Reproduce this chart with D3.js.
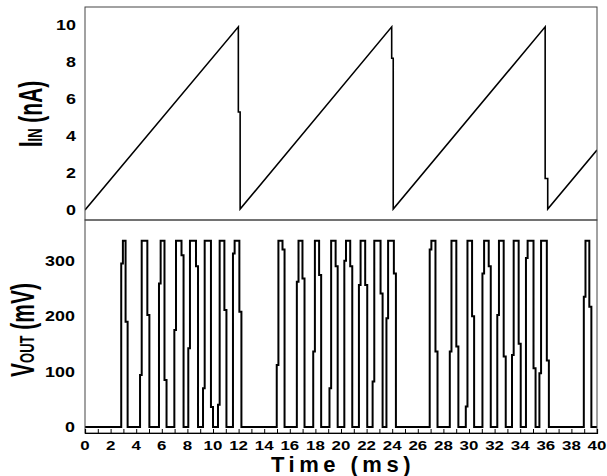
<!DOCTYPE html>
<html>
<head>
<meta charset="utf-8">
<script src="https://cdn.jsdelivr.net/npm/d3@7"></script>
<style>
  html, body { margin: 0; padding: 0; background: #fff; }
  svg { display: block; }
  text { font-family: "Liberation Sans", Arial, sans-serif; font-weight: bold; fill: #000; }
</style>
</head>
<body>
<div id="chart"></div>
<script>
// ---------- data ----------
// Top panel: input current ramp (time ms, current nA)
const rampTime    = [0, 11.98, 11.98, 12.12, 12.12, 23.96, 23.96, 24.08, 24.08, 35.95, 35.95, 36.15, 36.15, 40];
const rampCurrent = [0, 9.9,   5.3,   5.3,   0.05,  9.9,   8.2,   8.2,   0.05,  9.9,   1.7,   1.7,   0.05,  3.24];

// Bottom panel: output spikes (start / end time in ms, intermediate sample levels in mV)
const pulseStart = [2.83, 4.30, 5.78, 6.98, 8.07, 9.22, 10.39, 11.56,
                    14.98, 16.55, 17.83, 19.10, 20.26, 21.40, 22.47, 23.55,
                    26.93, 28.50, 29.75, 31.05, 32.21, 33.36, 34.45, 35.50,
                    38.97];
const pulseEnd   = [3.33, 5.03, 6.37, 7.70, 8.83, 10.00, 11.05, 12.22,
                    15.59, 17.15, 18.45, 19.74, 20.88, 22.05, 23.25, 24.29,
                    27.54, 29.17, 30.40, 31.70, 32.87, 34.04, 35.20, 36.24,
                    39.56];
const riseMid    = [295, 94, 259, 175, 142, 70, 40, 313,
                    112, 262, 136, 70, 300, 256, 82, 196,
                    320, 136, 37, 277, 202, 130, 305, 97,
                    235];
const fallMid    = [190, 202, 85, 310, 290, 36, 211, 208,
                    320, 268, 274, 290, 290, 256, 241, 277,
                    136, 145, 200, 290, 127, 150, 106, 120,
                    217];
const spikeTop = 336;   // mV
const riseJog = 0.13, fallJog = 0.16; // ms between samples on edges

const xTickLabels = d3.range(0, 41, 2);
const xMinorTicks = d3.range(0, 41, 1);
const yTopTicks = [0, 2, 4, 6, 8, 10];
const yBotTicks = [0, 100, 200, 300];

// ---------- layout ----------
const W = 607, H = 476;
const L = 85, R = 597, T = 7, MID = 220, B = 433;

const svg = d3.select("#chart").append("svg").attr("width", W).attr("height", H);

const x = d3.scaleLinear().domain([0, 40]).range([L, R]);
const yTop = d3.scaleLinear().domain([0, 10]).range([210, 25]);
const yBot = d3.scaleLinear().domain([0, 300]).range([427, 260.7]);

// clip paths
const defs = svg.append("defs");
defs.append("clipPath").attr("id", "clipTop").append("rect")
  .attr("x", L).attr("y", T).attr("width", R - L).attr("height", MID - T);
defs.append("clipPath").attr("id", "clipBot").append("rect")
  .attr("x", L).attr("y", MID).attr("width", R - L).attr("height", B - MID);

// ---------- top panel ----------
const rampData = rampTime.map((t, i) => [t, rampCurrent[i]]);
svg.append("path")
  .datum(rampData)
  .attr("clip-path", "url(#clipTop)")
  .attr("fill", "none").attr("stroke", "#000").attr("stroke-width", 1.6)
  .attr("stroke-linejoin", "miter")
  .attr("d", d3.line().x(d => x(d[0])).y(d => yTop(d[1])));

// ---------- bottom panel ----------
const wave = [[0, 0]];
pulseStart.forEach((s, i) => {
  const e = pulseEnd[i];
  wave.push([s, 0], [s, riseMid[i]], [s + riseJog, riseMid[i]], [s + riseJog, spikeTop],
            [e - fallJog, spikeTop], [e - fallJog, fallMid[i]], [e, fallMid[i]], [e, 0]);
});
wave.push([40, 0]);
svg.append("path")
  .datum(wave)
  .attr("clip-path", "url(#clipBot)")
  .attr("fill", "none").attr("stroke", "#000").attr("stroke-width", 2)
  .attr("stroke-linejoin", "miter")
  .attr("d", d3.line().x(d => x(d[0])).y(d => yBot(d[1])));

// ---------- frames ----------
svg.append("rect").attr("x", L).attr("y", T).attr("width", R - L).attr("height", MID - T)
  .attr("fill", "none").attr("stroke", "#444").attr("stroke-width", 1);
svg.append("rect").attr("x", L).attr("y", MID).attr("width", R - L).attr("height", B - MID)
  .attr("fill", "none").attr("stroke", "#444").attr("stroke-width", 1);

// x axis ticks (inward)
const xAxis = svg.append("g").attr("transform", `translate(0,${B})`)
  .call(d3.axisBottom(x).tickValues(xMinorTicks).tickSize(-4).tickFormat(""));
xAxis.select(".domain").attr("stroke", "#000").attr("stroke-width", 1.2);
xAxis.selectAll(".tick line").attr("stroke", "#000").attr("stroke-width", 1);

// x tick labels
svg.append("g").selectAll("text").data(xTickLabels).join("text")
  .attr("transform", d => `translate(${x(d)},449.5) scale(1.3,1)`)
  .attr("text-anchor", "middle")
  .attr("font-size", 13)
  .text(d => d);

// y tick labels
svg.append("g").selectAll("text").data(yTopTicks).join("text")
  .attr("transform", d => `translate(76,${yTop(d)}) scale(1.28,1)`)
  .attr("text-anchor", "end").attr("dy", "0.36em")
  .attr("font-size", 14)
  .text(d => d);
svg.append("g").selectAll("text").data(yBotTicks).join("text")
  .attr("transform", d => `translate(75,${yBot(d)}) scale(1.28,1)`)
  .attr("text-anchor", "end").attr("dy", "0.36em")
  .attr("font-size", 14)
  .text(d => d);

// axis titles
svg.append("text")
  .attr("x", 343).attr("y", 472)
  .attr("text-anchor", "middle")
  .attr("font-size", 22).attr("letter-spacing", 4.5)
  .text("Time (ms)");

const t1 = svg.append("text")
  .attr("transform", "translate(41.5,114) scale(1.6,1) rotate(-90)")
  .attr("text-anchor", "middle").attr("font-size", 21);
t1.append("tspan").text("I");
t1.append("tspan").attr("font-size", 13).text("IN");
t1.append("tspan").text(" (nA)");

const t2 = svg.append("text")
  .attr("transform", "translate(33.5,330) scale(1.6,1) rotate(-90)")
  .attr("text-anchor", "middle").attr("font-size", 21);
t2.append("tspan").text("V");
t2.append("tspan").attr("font-size", 13).text("OUT");
t2.append("tspan").text(" (mV)");
</script>
</body>
</html>
